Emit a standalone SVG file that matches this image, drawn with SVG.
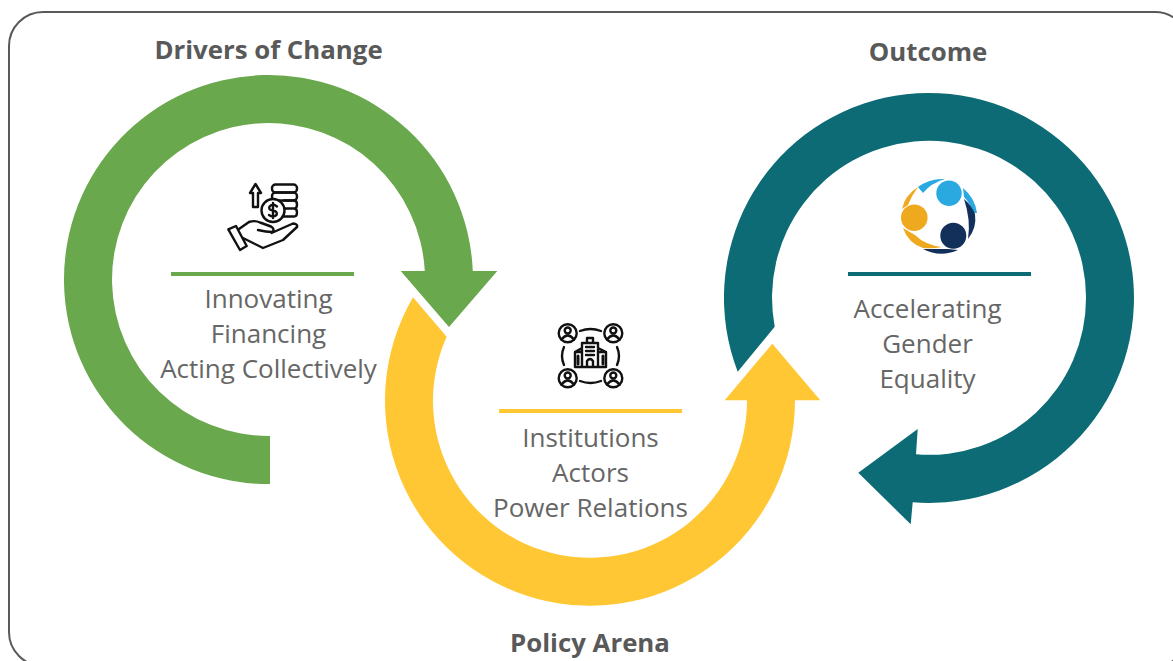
<svg xmlns="http://www.w3.org/2000/svg" width="1173" height="661" viewBox="0 0 1173 661">
<style>
.t{font-family:"Open Sans","Noto Sans",sans-serif;font-size:26px;fill:#666;text-anchor:middle}
.h{font-family:"Open Sans","Noto Sans",sans-serif;font-size:25.800px;font-weight:700;fill:#595959;text-anchor:middle}
.ic{fill:none;stroke:#111;stroke-width:2.400;stroke-linecap:round;stroke-linejoin:round}
</style>
<rect width="1173" height="661" fill="#fff"/>
<rect id="frame" x="9" y="12" width="1180" height="654" rx="34" fill="#fff" stroke="#595959" stroke-width="2"/>
<g id="connectors">
<path id="green-arrow" fill="#69a84d" d="M270 484A204.500 204.500 0 1 1 472.800 271H497.300L449 327L400.700 271H424.800A156.500 156.500 0 1 0 270 436Z"/>
<path id="yellow-arrow" fill="#ffc733" d="M413 297.300A205 205 0 1 0 795 400.300H820.300L772.300 343.700L724.700 400.300H747A157 157 0 1 1 446.700 336.700Z"/>
<path id="teal-arrow" fill="#0c6b75" d="M737.700 371.700A205 205 0 1 1 912.700 502.300L910.700 524.300L858.300 472.700L917.700 429L916 454.300A157 157 0 1 0 774.700 326.700Z"/>
</g>
<g id="node-drivers">
<text class="h" x="268.500" y="59">Drivers of Change</text>
<g class="ic">
<path d="M253 207V193H250L255.500 184L261 193H258V207Z"/>
<rect x="272" y="184.500" width="25" height="8" rx="3.500"/>
<rect x="272" y="192.500" width="25" height="8" rx="3.500"/>
<path d="M284 200.500H294Q297 200.500 297 204.500T294 208.500H285M285 208.500H294Q297 208.500 297 212.500T294 216.500H283"/>
<circle cx="273" cy="210.500" r="11.500" fill="#fff"/>
<path d="M277 206.500Q273 203 269.500 206.500Q268 210 273 210.500Q278 211.500 276.500 215Q273 218 269 215M273 203V218"/>
<path d="M239 229L249 222Q255 220 260 222.500L271 226.500Q275 229 272.500 232Q266 232 258 230M271.500 233L293 223.500Q298 224 297 227L283 240L263 248L243 238"/>
<path d="M228.300 229.300L236 226L246.700 246L240 250Z"/>
</g>
<rect x="171" y="272" width="183" height="4" fill="#69a84d"/>
<text class="t" x="268.500" y="308">Innovating</text>
<text class="t" x="268.500" y="343">Financing</text>
<text class="t" x="268.500" y="378">Acting Collectively</text>
</g>
<g id="node-policy">
<g class="ic">
<circle cx="567.700" cy="333.300" r="9"/><circle cx="567.700" cy="330.500" r="3"/><path d="M561.500 339.500Q567.700 331.500 574 339.500"/>
<circle cx="613.300" cy="333.300" r="9"/><circle cx="613.300" cy="330.500" r="3"/><path d="M607 339.500Q613.300 331.500 619.500 339.500"/>
<circle cx="567.700" cy="378.300" r="9"/><circle cx="567.700" cy="375.500" r="3"/><path d="M561.500 384.500Q567.700 376.500 574 384.500"/>
<circle cx="613.300" cy="378.300" r="9"/><circle cx="613.300" cy="375.500" r="3"/><path d="M607 384.500Q613.300 376.500 619.500 384.500"/>
<path d="M580 331Q590.500 327 601 331M580 381Q590.500 385 601 381M564 347Q560 356 564 365M617 347Q621 356 617 365"/>
<path d="M582 367V343H598V367ZM587 343V338H593V343M582 352H575V367H606V352H598M575 352L582 348M606 352L598 348M587 367V361Q590 357 593 361V367"/>
<path d="M586 347H594M586 351H594M586 355H594" stroke-dasharray="2 1.500"/>
<path d="M578 356V364M603 356V364" stroke-width="3"/>
</g>
<rect x="499" y="409" width="183" height="4" fill="#ffc733"/>
<text class="t" x="590.500" y="447">Institutions</text>
<text class="t" x="590.500" y="482">Actors</text>
<text class="t" x="590.500" y="517">Power Relations</text>
<text class="h" x="590" y="652">Policy Arena</text>
</g>
<g id="node-outcome">
<text class="h" x="928" y="61">Outcome</text>
<path fill="#29a9e0" d="M918 187Q930 178 945 179Q931 183 923 193Z"/>
<path fill="#29a9e0" d="M963 188Q975 198 977 213L973 213Q970 203 964 197Z"/>
<path fill="#efa91f" d="M902 209Q905 195 918 187Q912 195 908 205Z"/>
<path fill="#efa91f" d="M903 228Q908 243 923 248Q933 249 942 247Q925 245 915 235Z"/>
<path fill="#12305a" d="M964 199Q972 206 975 214Q977 228 968 239Q971 220 964 199Z"/>
<path fill="#12305a" d="M923 249Q938 249 948 249L958 250Q940 258 923 249Z"/>
<circle cx="949" cy="193.300" r="12.700" fill="#29a9e0"/>
<circle cx="914.300" cy="217.700" r="13.300" fill="#efa91f"/>
<circle cx="953.300" cy="235.700" r="13" fill="#12305a"/>
<rect x="848" y="272" width="183" height="4" fill="#0c6b75"/>
<text class="t" x="927.500" y="318">Accelerating</text>
<text class="t" x="927.500" y="353">Gender</text>
<text class="t" x="927.500" y="388">Equality</text>
</g>
</svg>
